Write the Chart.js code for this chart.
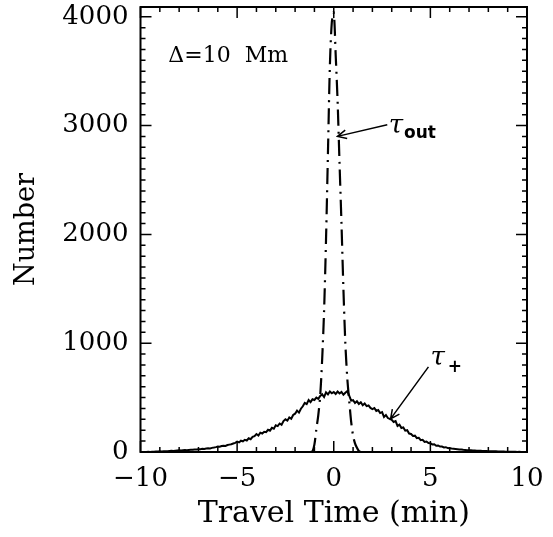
<!DOCTYPE html>
<html>
<head>
<meta charset="utf-8">
<script src="https://cdn.jsdelivr.net/npm/chart.js@4/dist/chart.umd.min.js"></script>
<style>
  html, body { margin: 0; background: #fff; }
</style>
</head>
<body>
<canvas id="chart" width="553" height="537"></canvas>
<script>
// travel time histograms, bins of 0.1 min

const plusStart = -10.0;
const binWidth = 0.1;
// tau_+ : broad noisy distribution, -10 .. 10 min
const tauPlus = [
  0, 1, 0, 1, 2, 1, 3, 2, 4, 5,
  6, 5, 7, 8, 7, 9, 11, 10, 12, 14,
  15, 13, 16, 18, 17, 19, 21, 20, 23, 24,
  26, 25, 29, 28, 32, 34, 33, 38, 41, 45,
  50, 48, 55, 58, 56, 64, 68, 72, 78, 84,
  95, 88, 104, 98, 112, 106, 126, 118, 140, 146,
  165, 152, 178, 170, 186, 182, 204, 196, 222, 214,
  245, 238, 262, 250, 284, 300, 288, 318, 306, 340,
  352, 380, 362, 398, 420, 452, 440, 478, 458, 485,
  478, 500, 488, 515, 530, 505, 548, 530, 556, 540,
  552, 534, 556, 538, 552, 526, 545, 560, 518, 472,
  476, 450, 466, 442, 458, 430, 446, 422, 428, 405,
  395, 404, 378, 386, 358, 366, 322, 340, 312, 304,
  296, 276, 284, 240, 252, 220, 226, 196, 200, 170,
  166, 148, 150, 128, 130, 108, 112, 92, 96, 82,
  80, 70, 72, 58, 60, 50, 50, 42, 44, 36,
  35, 32, 30, 28, 26, 24, 22, 20, 19, 17,
  16, 15, 14, 13, 12, 12, 11, 10, 9, 9,
  8, 7, 7, 6, 6, 5, 5, 4, 4, 3,
  3, 3, 2, 2, 2, 1, 2, 1, 1, 0, 1
];

// tau_out : narrow peak, -1.2 .. 1.4 min
const outStart = -1.2;
const tauOut = [
  0, 5, 70, 210, 340, 520, 850, 1300, 1950, 2750,
  3550, 3950, 4040, 3650, 3220, 2650, 2100, 1500, 1000, 680,
  470, 280, 150, 80, 40, 10, 0
];

const xTickValues = [-10, -5, 0, 5, 10];
const yTickValues = [0, 1000, 2000, 3000, 4000];

function toPoints(start, values) {
  return values.map((v, i) => ({ x: +(start + i * binWidth).toFixed(2), y: v }));
}

const serif = 'DejaVu Serif';

// box with inward IDL-style ticks on all four sides
const frame = {
  id: 'frame',
  afterDraw(chart) {
    const { ctx, chartArea: a, scales: { x, y } } = chart;
    ctx.save();
    ctx.strokeStyle = '#000';
    ctx.lineWidth = 2;
    ctx.strokeRect(a.left, a.top, a.right - a.left, a.bottom - a.top);
    ctx.lineWidth = 1.5;
    ctx.beginPath();
    for (let v = -10; v <= 10; v++) {
      const px = x.getPixelForValue(v);
      const len = v % 5 === 0 ? 11 : 5;
      ctx.moveTo(px, a.bottom); ctx.lineTo(px, a.bottom - len);
      ctx.moveTo(px, a.top); ctx.lineTo(px, a.top + len);
    }
    for (let v = 0; v <= 4000; v += 100) {
      const py = y.getPixelForValue(v);
      const len = v % 1000 === 0 ? 11 : 5;
      ctx.moveTo(a.left, py); ctx.lineTo(a.left + len, py);
      ctx.moveTo(a.right, py); ctx.lineTo(a.right - len, py);
    }
    ctx.stroke();
    ctx.restore();
  }
};

function arrow(ctx, x1, y1, x2, y2) {
  const ang = Math.atan2(y2 - y1, x2 - x1);
  const h = 10;
  ctx.beginPath();
  ctx.moveTo(x1, y1); ctx.lineTo(x2, y2);
  ctx.moveTo(x2 - h * Math.cos(ang - 0.45), y2 - h * Math.sin(ang - 0.45));
  ctx.lineTo(x2, y2);
  ctx.lineTo(x2 - h * Math.cos(ang + 0.45), y2 - h * Math.sin(ang + 0.45));
  ctx.stroke();
}

const labels = {
  id: 'labels',
  afterDraw(chart) {
    const { ctx, scales: { x, y } } = chart;
    const X = v => x.getPixelForValue(v), Y = v => y.getPixelForValue(v);
    ctx.save();
    ctx.fillStyle = '#000';
    ctx.strokeStyle = '#000';
    ctx.lineWidth = 1.5;
    ctx.textBaseline = 'middle';

    ctx.font = '22px "' + serif + '"';
    ctx.fillText('\u0394=10  Mm', X(-8.56), Y(3634));

    // tau_out
    ctx.font = 'italic 26px "' + serif + '"';
    ctx.fillText('\u03c4', X(2.84), Y(2990));
    let w = ctx.measureText('\u03c4').width;
    ctx.font = 'bold 17px "DejaVu Sans"';
    ctx.fillText('out', X(2.84) + w + 1, Y(2990) + 7);
    arrow(ctx, X(2.77), Y(3008), X(0.19), Y(2901));

    // tau_+
    ctx.font = 'italic 26px "' + serif + '"';
    ctx.fillText('\u03c4', X(5.0), Y(865));
    w = ctx.measureText('\u03c4').width;
    ctx.font = 'bold 17px "DejaVu Sans"';
    ctx.fillText('+', X(5.0) + w + 3, Y(865) + 10);
    arrow(ctx, X(4.9), Y(782), X(2.94), Y(304));
    ctx.restore();
  }
};

new Chart(document.getElementById('chart'), {
  type: 'line',
  data: {
    datasets: [
      {
        label: '\u03c4+',
        data: toPoints(plusStart, tauPlus),
        borderColor: '#000',
        borderWidth: 2,
        pointRadius: 0,
        tension: 0
      },
      {
        label: '\u03c4out',
        data: toPoints(outStart, tauOut),
        borderColor: '#000',
        borderWidth: 2.2,
        borderDash: [16, 6, 2, 6],
        pointRadius: 0,
        tension: 0.3
      }
    ]
  },
  options: {
    responsive: false,
    animation: false,
    devicePixelRatio: 1,
    layout: { padding: { top: 7, right: 26, left: 0, bottom: 0 } },
    plugins: { legend: { display: false }, tooltip: { enabled: false } },
    scales: {
      x: {
        type: 'linear',
        min: -10, max: 10,
        grid: { display: false, drawTicks: false },
        border: { display: false },
        afterBuildTicks: s => { s.ticks = xTickValues.map(v => ({ value: v })); },
        ticks: {
          color: '#000',
          padding: 12,
          maxRotation: 0,
          font: { family: serif, size: 26 },
          callback: v => String(v).replace('-', '\u2212')
        },
        title: {
          display: true,
          text: 'Travel Time (min)',
          color: '#000',
          font: { family: serif, size: 30 },
          padding: { top: 0, bottom: 5 }
        },
        afterFit: s => { s.height = 85; s.paddingLeft = 0; s.paddingRight = 0; }
      },
      y: {
        min: 0, max: 4090,
        grid: { display: false, drawTicks: false },
        border: { display: false },
        afterBuildTicks: s => { s.ticks = yTickValues.map(v => ({ value: v })); },
        ticks: {
          color: '#000',
          padding: 12,
          font: { family: serif, size: 26 },
          callback: v => String(v)
        },
        title: {
          display: true,
          text: 'Number',
          color: '#000',
          font: { family: serif, size: 27 },
          padding: { top: 11, bottom: 0 }
        },
        afterFit: s => { s.width = 140.5; s.paddingTop = 0; s.paddingBottom = 0; }
      }
    }
  },
  plugins: [frame, labels]
});
</script>
</body>
</html>
